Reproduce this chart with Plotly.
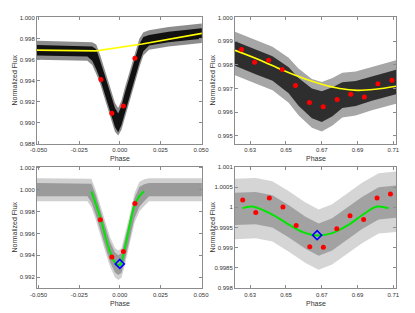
import plotly.graph_objects as go

# ---------------- data ----------------
# Panel 1: primary eclipse, black data cloud (upper/lower envelopes)
p1_phase = [-0.0510, -0.030, -0.020, -0.017, -0.0145, -0.012, -0.009, -0.006, -0.003, -0.001,
            0.001, 0.003, 0.006, 0.009, 0.012, 0.0145, 0.018, 0.030, 0.0505]
p1_core_hi = [0.99740, 0.99735, 0.99730, 0.99725, 0.99700, 0.99590, 0.99440, 0.99290, 0.99140, 0.99090,
              0.99160, 0.99280, 0.99430, 0.99590, 0.99750, 0.99815, 0.99835, 0.99865, 0.99900]
p1_core_lo = [0.99640, 0.99635, 0.99630, 0.99590, 0.99510, 0.99410, 0.99260, 0.99110, 0.98960, 0.98910,
              0.98980, 0.99100, 0.99250, 0.99410, 0.99570, 0.99680, 0.99735, 0.99765, 0.99800]
p1_halo_hi = [0.99780, 0.99775, 0.99770, 0.99765, 0.99745, 0.99640, 0.99490, 0.99340, 0.99190, 0.99140,
              0.99210, 0.99330, 0.99480, 0.99640, 0.99800, 0.99860, 0.99880, 0.99910, 0.99945]
p1_halo_lo = [0.99600, 0.99595, 0.99590, 0.99550, 0.99465, 0.99365, 0.99215, 0.99065, 0.98915, 0.98880,
              0.98935, 0.99055, 0.99205, 0.99365, 0.99525, 0.99640, 0.99695, 0.99725, 0.99760]
p1_fit_phase = [-0.0510, -0.0146, 0.0138, 0.0505]
p1_fit_flux = [0.99691, 0.99684, 0.99750, 0.99850]
p1_pts_phase = [-0.0116, -0.0049, 0.0022, 0.0093]
p1_pts_flux = [0.99413, 0.99091, 0.99160, 0.99615]

# Panel 2: secondary eclipse, black data cloud
p2_phase = [0.6215, 0.633, 0.6425, 0.6515, 0.657, 0.6645, 0.670, 0.676, 0.6815, 0.689, 0.698, 0.7115]
p2_core_hi = [0.99900, 0.99865, 0.99837, 0.99790, 0.99745, 0.99700, 0.99688, 0.99705, 0.99727, 0.99732, 0.99752, 0.99780]
p2_core_lo = [0.99796, 0.99761, 0.99733, 0.99680, 0.99627, 0.99574, 0.99558, 0.99583, 0.99617, 0.99626, 0.99648, 0.99676]
p2_halo_hi = [0.99940, 0.99905, 0.99877, 0.99830, 0.99785, 0.99740, 0.99728, 0.99745, 0.99767, 0.99772, 0.99792, 0.99820]
p2_halo_lo = [0.99756, 0.99721, 0.99693, 0.99640, 0.99587, 0.99534, 0.99518, 0.99543, 0.99577, 0.99586, 0.99608, 0.99636]
p2_fit_phase = [0.6215, 0.635, 0.648, 0.660, 0.670, 0.680, 0.690, 0.700, 0.7115]
p2_fit_flux = [0.99862, 0.99822, 0.99778, 0.99742, 0.99718, 0.99700, 0.99692, 0.99697, 0.99710]
p2_pts_phase = [0.6251, 0.6325, 0.6403, 0.6479, 0.6553, 0.6631, 0.6708, 0.6786, 0.6862, 0.6938, 0.7014, 0.7092]
p2_pts_flux = [0.99865, 0.99811, 0.99820, 0.99781, 0.99713, 0.99641, 0.99623, 0.99654, 0.99676, 0.99664, 0.99720, 0.99735]

# Panel 3: primary eclipse, grey data cloud with green model
p3_phase = [-0.0510, -0.030, -0.020, -0.0175, -0.015, -0.012, -0.009, -0.006, -0.003, -0.001,
            0.001, 0.003, 0.006, 0.009, 0.012, 0.015, 0.018, 0.030, 0.0505]
p3_core_hi = [1.00060, 1.00060, 1.00060, 1.00055, 0.99960, 0.99815, 0.99660, 0.99520, 0.99425, 0.99400,
              0.99420, 0.99530, 0.99720, 0.99920, 1.00025, 1.00050, 1.00060, 1.00060, 1.00060]
p3_core_lo = [0.99940, 0.99940, 0.99940, 0.99885, 0.99780, 0.99635, 0.99480, 0.99340, 0.99245, 0.99220,
              0.99240, 0.99350, 0.99540, 0.99740, 0.99845, 0.99895, 0.99940, 0.99940, 0.99940]
p3_halo_hi = [1.00105, 1.00105, 1.00105, 1.00100, 1.00005, 0.99860, 0.99705, 0.99565, 0.99470, 0.99445,
              0.99465, 0.99575, 0.99765, 0.99965, 1.00070, 1.00095, 1.00105, 1.00105, 1.00105]
p3_halo_lo = [0.99895, 0.99895, 0.99895, 0.99840, 0.99735, 0.99590, 0.99435, 0.99295, 0.99200, 0.99175,
              0.99195, 0.99305, 0.99495, 0.99695, 0.99800, 0.99850, 0.99895, 0.99895, 0.99895]
p3_fit_phase = [-0.0175, -0.0146, -0.0116, -0.0092, -0.0065, -0.0045, -0.0030, -0.0015, 0.0000,
                0.0010, 0.0026, 0.0057, 0.0087, 0.0118, 0.0150]
p3_fit_flux = [0.99985, 0.99861, 0.99725, 0.99588, 0.99452, 0.99376, 0.99335, 0.99315, 0.99312,
               0.99340, 0.99431, 0.99649, 0.99840, 0.99936, 0.99985]
p3_pts_phase = [-0.0120, -0.0049, 0.0022, 0.0093]
p3_pts_flux = [0.99725, 0.99385, 0.99436, 0.99873]
p3_min_phase = [0.0000]
p3_min_flux = [0.99322]

# Panel 4: secondary eclipse, grey data cloud with green model
p4_phase = [0.6215, 0.6331, 0.6424, 0.6516, 0.6609, 0.6683, 0.6758, 0.6832, 0.6925, 0.7018, 0.7115]
p4_core_hi = [1.00036, 1.00038, 1.00030, 1.00005, 0.99977, 0.99960, 0.99973, 0.99997, 1.00026, 1.00050, 1.00054]
p4_core_lo = [0.99956, 0.99958, 0.99950, 0.99925, 0.99897, 0.99880, 0.99893, 0.99917, 0.99946, 0.99970, 0.99974]
p4_halo_hi = [1.00071, 1.00073, 1.00065, 1.00040, 1.00012, 0.99995, 1.00008, 1.00032, 1.00061, 1.00085, 1.00089]
p4_halo_lo = [0.99921, 0.99923, 0.99915, 0.99890, 0.99862, 0.99845, 0.99858, 0.99882, 0.99911, 0.99935, 0.99939]
p4_fit_phase = [0.6257, 0.6312, 0.6424, 0.6516, 0.6591, 0.6674, 0.6758, 0.6851, 0.6943, 0.7009, 0.7073]
p4_fit_flux = [0.99998, 1.00002, 0.99982, 0.99957, 0.99939, 0.99930, 0.99936, 0.99957, 0.99986, 1.00002, 0.99998]
p4_pts_phase = [0.6258, 0.6331, 0.6407, 0.6483, 0.6557, 0.6633, 0.6709, 0.6784, 0.6858, 0.6934, 0.7009, 0.7084]
p4_pts_flux = [1.00018, 0.99987, 1.00023, 1.00001, 0.99955, 0.99902, 0.99901, 0.99947, 0.99979, 0.99970, 1.00023, 1.00033]
p4_min_phase = [0.6674]
p4_min_flux = [0.99931]

# tick labels
p1_xticks = [-0.050, -0.025, 0.000, 0.025, 0.050]
p1_xlabels = ["-0.050", "-0.025", "0.000", "0.025", "0.050"]
p1_yticks = [0.988, 0.990, 0.992, 0.994, 0.996, 0.998, 1.000]
p2_xticks = [0.63, 0.65, 0.67, 0.69, 0.71]
p2_yticks = [0.995, 0.996, 0.997, 0.998, 0.999, 1.000]
p3_yticks = [0.992, 0.994, 0.996, 0.998, 1.000, 1.002]
p4_yticks = [0.998, 0.9985, 0.999, 0.9995, 1.0, 1.0005, 1.001]
p4_ylabels = ["0.998", "0.9985", "0.999", "0.9995", "1", "1.0005", "1.001"]

# ---------------- figure ----------------
# the page body has an 8px margin: work in page pixels and convert
OFF = 8
W, H = 415 - OFF, 313 - OFF


def fx(px):
    return (px - OFF) / W


def fy(py):
    return 1 - (py - OFF) / H


fig = go.Figure()


def band(ax, phase, hi, lo, color):
    fig.add_trace(go.Scatter(
        x=list(phase) + list(phase)[::-1], y=list(hi) + list(lo)[::-1],
        xaxis="x" + ax, yaxis="y" + ax, mode="lines", fill="toself",
        line=dict(width=0), fillcolor=color, hoverinfo="skip", showlegend=False))


def line(ax, x, y, color, width, shape="linear"):
    fig.add_trace(go.Scatter(x=x, y=y, xaxis="x" + ax, yaxis="y" + ax, mode="lines",
                             line=dict(color=color, width=width, shape=shape),
                             showlegend=False))


def dots(ax, x, y):
    fig.add_trace(go.Scatter(x=x, y=y, xaxis="x" + ax, yaxis="y" + ax, mode="markers",
                             marker=dict(color="#ff0000", size=5), showlegend=False))


def diamond(ax, x, y):
    fig.add_trace(go.Scatter(x=x, y=y, xaxis="x" + ax, yaxis="y" + ax, mode="markers",
                             marker=dict(symbol="diamond-open", color="#0000ff", size=7,
                                         line=dict(width=1.6, color="#0000ff")),
                             showlegend=False))


# panel 1
band("", p1_phase, p1_halo_hi, p1_halo_lo, "rgba(0,0,0,0.45)")
band("", p1_phase, p1_core_hi, p1_core_lo, "rgba(0,0,0,0.88)")
line("", p1_fit_phase, p1_fit_flux, "#ffff00", 1.6)
dots("", p1_pts_phase, p1_pts_flux)
# panel 2
band("2", p2_phase, p2_halo_hi, p2_halo_lo, "rgba(0,0,0,0.35)")
band("2", p2_phase, p2_core_hi, p2_core_lo, "rgba(0,0,0,0.72)")
line("2", p2_fit_phase, p2_fit_flux, "#ffff00", 1.6, "spline")
dots("2", p2_pts_phase, p2_pts_flux)
# panel 3
band("3", p3_phase, p3_halo_hi, p3_halo_lo, "rgba(150,150,150,0.45)")
band("3", p3_phase, p3_core_hi, p3_core_lo, "rgba(140,140,140,0.8)")
line("3", p3_fit_phase, p3_fit_flux, "#00e600", 2, "spline")
dots("3", p3_pts_phase, p3_pts_flux)
diamond("3", p3_min_phase, p3_min_flux)
# panel 4
band("4", p4_phase, p4_halo_hi, p4_halo_lo, "rgba(150,150,150,0.4)")
band("4", p4_phase, p4_core_hi, p4_core_lo, "rgba(140,140,140,0.7)")
line("4", p4_fit_phase, p4_fit_flux, "#00e600", 2, "spline")
dots("4", p4_pts_phase, p4_pts_flux)
diamond("4", p4_min_phase, p4_min_flux)

TXT = "#333333"
FRAME = "#8c8c8c"
common = dict(showline=True, linecolor=FRAME, linewidth=1, mirror="ticks", ticks="inside",
              ticklen=3, tickcolor=FRAME, showgrid=False, zeroline=False, automargin=False,
              tickfont=dict(family="Liberation Sans, Arial, sans-serif", size=6, color=TXT))

xl = [fx(37), fx(202)]
xr = [fx(235), fx(396)]
yt = [fy(144), fy(17)]
yb = [fy(288.3), fy(166.7)]

fig.update_layout(
    width=W, height=H, margin=dict(l=0, r=0, t=0, b=0, autoexpand=False),
    paper_bgcolor="white", plot_bgcolor="white",
    xaxis=dict(domain=xl, anchor="y", range=[-0.051, 0.0506], tickvals=p1_xticks,
               ticktext=p1_xlabels, **common),
    yaxis=dict(domain=yt, anchor="x", range=[0.98799, 1.00006], tickvals=p1_yticks,
               tickformat=".3f", **common),
    xaxis2=dict(domain=xr, anchor="y2", range=[0.6215, 0.7115], tickvals=p2_xticks,
                tickformat=".2f", **common),
    yaxis2=dict(domain=yt, anchor="x2", range=[0.99465, 1.00003], tickvals=p2_yticks,
                tickformat=".3f", **common),
    xaxis3=dict(domain=xl, anchor="y3", range=[-0.051, 0.0506], tickvals=p1_xticks,
                ticktext=p1_xlabels, **common),
    yaxis3=dict(domain=yb, anchor="x3", range=[0.99099, 1.00210], tickvals=p3_yticks,
                tickformat=".3f", **common),
    xaxis4=dict(domain=xr, anchor="y4", range=[0.6215, 0.7115], tickvals=p2_xticks,
                tickformat=".2f", **common),
    yaxis4=dict(domain=yb, anchor="x4", range=[0.99799, 1.00101], tickvals=p4_yticks,
                ticktext=p4_ylabels, **common),
)

tfont = dict(family="Liberation Sans, Arial, sans-serif", size=7, color=TXT)
ann = []
for xc, yc in [(14, 80.5), (212, 80.5), (14, 227.5), (212, 227.5)]:
    ann.append(dict(text="Normalized Flux", x=fx(xc), y=fy(yc), xref="paper",
                    yref="paper", xanchor="center", yanchor="middle",
                    showarrow=False, textangle=-90, font=tfont))
for xc, yc in [(119.5, 158), (315.5, 158), (119.5, 303), (315.5, 303)]:
    ann.append(dict(text="Phase", x=fx(xc), y=fy(yc), xref="paper", yref="paper",
                    xanchor="center", yanchor="middle", showarrow=False, font=tfont))
fig.update_layout(annotations=ann)

fig.write_html("out.html")
